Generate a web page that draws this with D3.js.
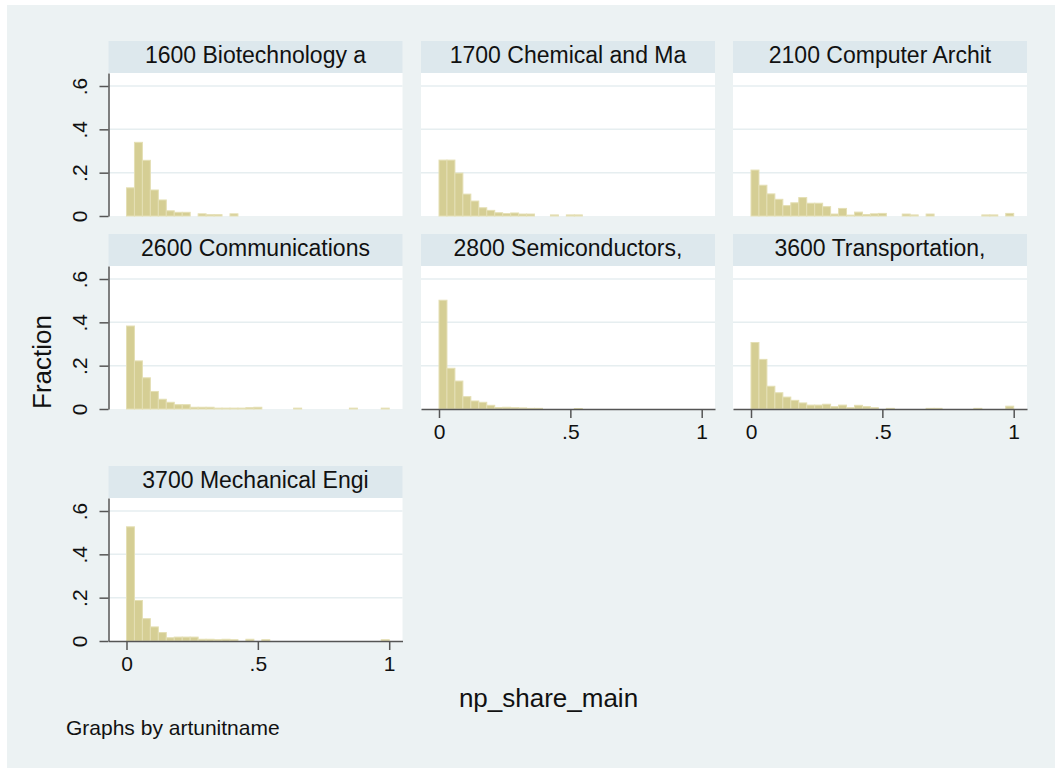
<!DOCTYPE html>
<html lang="en">
<head>
<meta charset="UTF-8">
<title>np_share_main by artunitname</title>
<script src="https://cdn.jsdelivr.net/npm/d3@7"></script>
<style>
  body { margin: 0; background: #fff; }
  svg text { font-family: "Liberation Sans", Arial, Helvetica, sans-serif; }
</style>
</head>
<body>
<script>
// histogram fractions, 33 equal bins over [0,1]
var categories = ["1600 Biotechnology a", "1700 Chemical and Ma", "2100 Computer Archit",
                  "2600 Communications", "2800 Semiconductors,", "3600 Transportation,",
                  "3700 Mechanical Engi"]
var binCount = 33
var frac1600 = [0.13, 0.34, 0.257, 0.12, 0.074, 0.024, 0.017, 0.017, 0, 0.01, 0.006,
                0.006, 0, 0.01, 0, 0, 0, 0, 0, 0, 0, 0,
                0, 0, 0, 0, 0, 0, 0, 0, 0, 0, 0]
var frac1700 = [0.258, 0.258, 0.198, 0.101, 0.069, 0.038, 0.026, 0.015, 0.011, 0.014, 0.009,
                0.009, 0, 0, 0.005, 0, 0.005, 0.005, 0, 0, 0, 0,
                0, 0, 0, 0, 0, 0, 0, 0, 0, 0, 0]
var frac2100 = [0.212, 0.142, 0.102, 0.077, 0.048, 0.061, 0.085, 0.059, 0.059, 0.043, 0.009,
                0.035, 0.004, 0.018, 0.007, 0.01, 0.012, 0, 0, 0.009, 0.005, 0,
                0.009, 0, 0, 0, 0, 0, 0, 0.005, 0.005, 0, 0.012]
var frac2600 = [0.383, 0.222, 0.144, 0.081, 0.045, 0.031, 0.02, 0.02, 0.008, 0.008, 0.008,
                0.004, 0.004, 0.004, 0.004, 0.006, 0.008, 0, 0, 0, 0, 0.004,
                0, 0, 0, 0, 0, 0, 0.004, 0, 0, 0, 0.004]
var frac2800 = [0.502, 0.188, 0.129, 0.057, 0.037, 0.031, 0.017, 0.007, 0.008, 0.006, 0.005,
                0.003, 0.003, 0, 0, 0, 0, 0.002, 0, 0, 0, 0,
                0, 0, 0, 0, 0, 0, 0, 0, 0, 0, 0]
var frac3600 = [0.307, 0.229, 0.105, 0.075, 0.055, 0.04, 0.028, 0.018, 0.018, 0.022, 0.011,
                0.018, 0.006, 0.017, 0.011, 0.006, 0, 0.003, 0, 0, 0, 0,
                0.003, 0.003, 0, 0, 0, 0, 0.003, 0, 0, 0, 0.013]
var frac3700 = [0.527, 0.187, 0.103, 0.065, 0.039, 0.015, 0.018, 0.018, 0.018, 0.008, 0.008,
                0.006, 0.008, 0.006, 0, 0.008, 0, 0.006, 0, 0, 0, 0,
                0, 0, 0, 0, 0, 0, 0, 0, 0, 0, 0.006]
var series = [frac1600, frac1700, frac2100, frac2600, frac2800, frac3600, frac3700]
var yTicks = [0, 0.2, 0.4, 0.6]
var yTickLabels = ["0", ".2", ".4", ".6"]
var xTicks = [0, 0.5, 1]
var xTickLabels = ["0", ".5", "1"]

var width = 1055, height = 769
var colLeft = [108.5, 421, 733], rowTop = [41, 234, 466]
var panelW = 294, stripH = 32, plotH = 143
var barFill = '#d5ce94', barLine = '#e4dfb4', axisCol = '#555'

var svg = d3.select('body').append('svg')
    .attr('width', width).attr('height', height)

svg.append('rect').attr('x', 7).attr('y', 5).attr('width', width - 7).attr('height', 763)
    .attr('fill', '#ecf2f3')

var x = d3.scaleLinear().domain([-0.0685, 1.0506]).range([0, panelW])
var y = d3.scaleLinear().domain([0, 0.66]).range([plotH, 0])

series.forEach(function(vals, p) {
    var row = Math.floor(p / 3), col = p % 3
    var g = svg.append('g')
        .attr('transform', 'translate(' + colLeft[col] + ',' + rowTop[row] + ')')

    // header strip
    g.append('rect').attr('width', panelW).attr('height', stripH).attr('fill', '#dde8ed')
    g.append('text').attr('x', panelW / 2).attr('y', 22)
        .attr('text-anchor', 'middle').attr('font-size', 23).attr('fill', '#111')
        .text(categories[p])

    var plot = g.append('g').attr('transform', 'translate(0,' + stripH + ')')
    plot.append('rect').attr('width', panelW).attr('height', plotH).attr('fill', '#fff')

    plot.selectAll('.grid').data(yTicks.filter(function(d) { return d > 0 }))
        .enter().append('line').attr('class', 'grid')
        .attr('x1', 0).attr('x2', panelW)
        .attr('y1', function(d) { return y(d) }).attr('y2', function(d) { return y(d) })
        .attr('stroke', '#e6eef0').attr('stroke-width', 1.5)

    // keep the bin number with each value so empty bins can be skipped
    var bins = vals.map(function(v, i) { return { bin: i, v: v } })
        .filter(function(d) { return d.v > 0 })

    plot.selectAll('.bar').data(bins)
        .enter().append('rect').attr('class', 'bar')
        .attr('x', function(d) { return x(d.bin / binCount) })
        .attr('width', function(d) { return x((d.bin + 1) / binCount) - x(d.bin / binCount) })
        .attr('y', function(d) { return y(d.v) })
        .attr('height', function(d) { return plotH - y(d.v) })
        .attr('fill', barFill).attr('stroke', barLine).attr('stroke-width', 1)

    if (col == 0) {
        var ya = plot.append('g').call(d3.axisLeft(y).tickValues(yTicks)
            .tickFormat(function(d, i) { return yTickLabels[i] })
            .tickSize(9).tickSizeOuter(0))
        ya.selectAll('path, line').attr('stroke', axisCol).attr('stroke-width', 1.5)
        ya.selectAll('text').attr('transform', 'rotate(-90)')
            .attr('x', 0).attr('y', -21.5).attr('dy', 0)
            .attr('text-anchor', 'middle').attr('font-size', 21)
            .attr('font-family', null).attr('fill', '#111')
    }
    if (p + 3 >= series.length) {
        var xa = plot.append('g').attr('transform', 'translate(0,' + plotH + ')')
            .call(d3.axisBottom(x).tickValues(xTicks)
            .tickFormat(function(d, i) { return xTickLabels[i] })
            .tickSize(9).tickSizeOuter(0))
        xa.selectAll('path, line').attr('stroke', axisCol).attr('stroke-width', 1.5)
        xa.selectAll('text').attr('y', 29.5).attr('dy', 0)
            .attr('font-size', 21).attr('font-family', null).attr('fill', '#111')
    }
})

svg.append('text').attr('transform', 'translate(51,362) rotate(-90)')
    .attr('text-anchor', 'middle').attr('font-size', 26).attr('fill', '#111')
    .text('Fraction')
svg.append('text').attr('x', 548.5).attr('y', 707)
    .attr('text-anchor', 'middle').attr('font-size', 26).attr('fill', '#111')
    .text('np_share_main')
svg.append('text').attr('x', 66).attr('y', 735)
    .attr('font-size', 21).attr('fill', '#111')
    .text('Graphs by artunitname')
</script>
</body>
</html>
